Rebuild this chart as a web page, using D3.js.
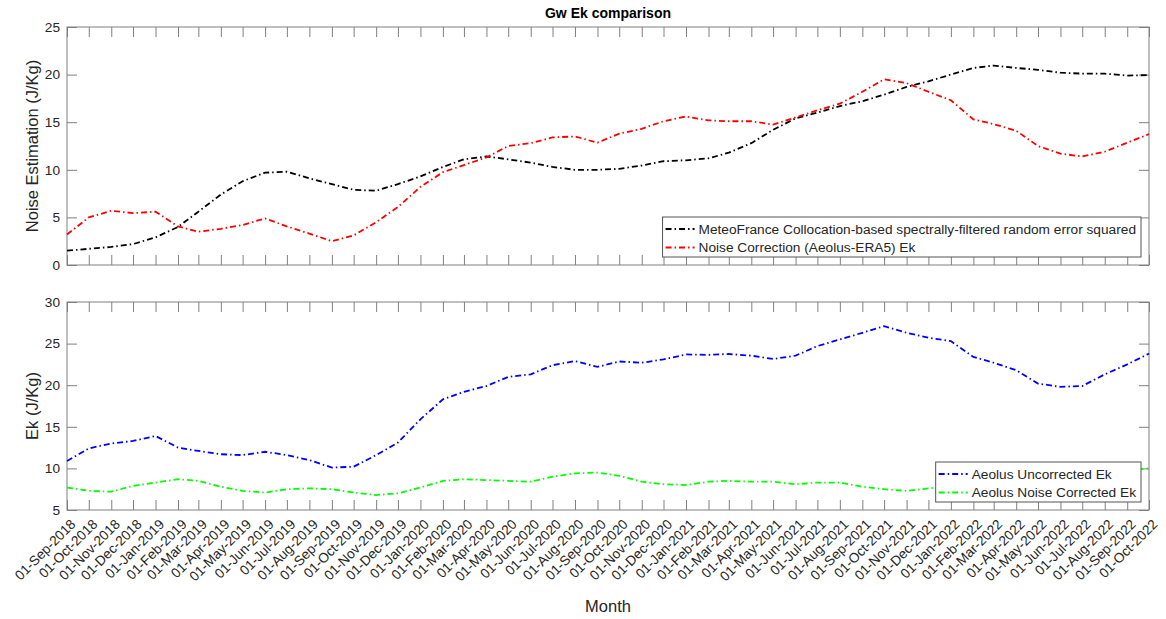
<!DOCTYPE html>
<html>
<head>
<meta charset="utf-8">
<script src="https://cdn.jsdelivr.net/npm/d3@7"></script>
<style>
  body { margin: 0; background: #fff; }
  svg { font-family: "Liberation Sans", Arial, Helvetica, sans-serif; }
</style>
</head>
<body>
<div id="chart"></div>
<script>

// month labels, also used as x values
var months = ['01-Sep-2018','01-Oct-2018','01-Nov-2018','01-Dec-2018','01-Jan-2019','01-Feb-2019','01-Mar-2019','01-Apr-2019',
'01-May-2019','01-Jun-2019','01-Jul-2019','01-Aug-2019','01-Sep-2019','01-Oct-2019','01-Nov-2019','01-Dec-2019',
'01-Jan-2020','01-Feb-2020','01-Mar-2020','01-Apr-2020','01-May-2020','01-Jun-2020','01-Jul-2020','01-Aug-2020',
'01-Sep-2020','01-Oct-2020','01-Nov-2020','01-Dec-2020','01-Jan-2021','01-Feb-2021','01-Mar-2021','01-Apr-2021',
'01-May-2021','01-Jun-2021','01-Jul-2021','01-Aug-2021','01-Sep-2021','01-Oct-2021','01-Nov-2021','01-Dec-2021',
'01-Jan-2022','01-Feb-2022','01-Mar-2022','01-Apr-2022','01-May-2022','01-Jun-2022','01-Jul-2022','01-Aug-2022',
'01-Sep-2022','01-Oct-2022'];

// top panel
var meteoFrance = [1.5,1.7,1.9,2.2,2.9,4.0,5.6,7.4,8.8,9.7,9.8,9.1,8.5,7.9,7.8,8.5,9.3,10.3,11.1,11.4,
11.1,10.75,10.3,10.0,10.0,10.1,10.45,10.9,11.0,11.2,11.8,12.8,14.2,15.4,16.0,16.7,17.2,17.9,18.7,19.3,
20.0,20.7,20.95,20.7,20.5,20.2,20.1,20.1,19.9,19.95];
var noiseCorrection = [3.2,5.0,5.7,5.45,5.6,4.05,3.5,3.8,4.2,4.9,4.05,3.3,2.5,3.1,4.5,6.1,8.2,9.75,10.5,11.3,
12.5,12.8,13.4,13.5,12.85,13.8,14.3,15.1,15.6,15.2,15.1,15.1,14.75,15.5,16.25,16.95,18.2,19.5,19.1,18.2,
17.3,15.3,14.8,14.1,12.5,11.7,11.4,11.9,12.85,13.75];

// bottom panel
var uncorrectedEk = [10.9,12.4,13.0,13.3,13.9,12.5,12.1,11.7,11.6,12.0,11.6,11.0,10.1,10.2,11.6,13.1,15.9,18.3,19.2,19.9,
21.0,21.3,22.4,22.9,22.2,22.85,22.7,23.1,23.7,23.65,23.75,23.55,23.15,23.55,24.7,25.5,26.3,27.1,26.3,25.7,
25.3,23.4,22.7,21.8,20.2,19.8,19.9,21.3,22.5,23.8];
var correctedEk = [7.7,7.3,7.2,7.9,8.3,8.7,8.5,7.8,7.3,7.1,7.5,7.6,7.5,7.1,6.8,7.0,7.7,8.5,8.7,8.6,
8.5,8.4,9.0,9.4,9.5,9.1,8.4,8.1,8.0,8.4,8.5,8.4,8.4,8.1,8.3,8.3,7.8,7.5,7.3,7.6,
7.9,8.3,8.6,8.8,9.0,9.2,9.4,9.6,9.8,10.0];

var topTicks = [0,5,10,15,20,25];
var bottomTicks = [5,10,15,20,25,30];

var parseDate = d3.timeParse("%d-%b-%Y");
var dates = months.map(parseDate);

var svgWidth = 1166, svgHeight = 619;
var left = 67, right = 1149;

var svg = d3.select("#chart")
    .append("svg")
    .attr("width", svgWidth)
    .attr("height", svgHeight);

var xScale = d3.scaleTime()
    .domain(d3.extent(dates))
    .range([left, right]);

var axisColor = "#808080";
var textColor = "#262626";
var dash = "6,3,1.5,3";
var fontSize = "13.7px";

function drawPanel(top, bottom, yDomain, yTicks, series, yLabel, showDates) {
    var y = d3.scaleLinear().domain(yDomain).range([bottom, top]);
    var g = svg.append("g");

    // inward ticks on all four sides (box on)
    g.append("g")
        .attr("transform", `translate(${left},0)`)
        .call(d3.axisLeft(y).tickValues(yTicks).tickSizeInner(-10).tickSizeOuter(0).tickPadding(7));
    g.append("g")
        .attr("transform", `translate(${right},0)`)
        .call(d3.axisRight(y).tickValues(yTicks).tickSizeInner(-10).tickSizeOuter(0).tickFormat(""));
    g.append("g")
        .attr("transform", `translate(0,${top})`)
        .call(d3.axisTop(xScale).tickValues(dates).tickSizeInner(-10).tickSizeOuter(0).tickFormat(""));
    var xb = g.append("g")
        .attr("transform", `translate(0,${bottom})`)
        .call(d3.axisBottom(xScale).tickValues(dates).tickSizeInner(-10).tickSizeOuter(0)
            .tickFormat(showDates ? d3.timeFormat("%d-%b-%Y") : ""));

    if (showDates) {
        xb.selectAll("text")
            .attr("x", 0).attr("y", 0).attr("dy", 0)
            .style("text-anchor", "end")
            .attr("transform", "translate(9,15) rotate(-45)");
    }

    g.selectAll(".domain").remove();
    g.selectAll(".tick line").attr("stroke", axisColor);
    g.selectAll(".tick text").attr("fill", textColor).style("font-size", fontSize);

    g.append("rect")
        .attr("x", left).attr("y", top)
        .attr("width", right - left).attr("height", bottom - top)
        .attr("fill", "none").attr("stroke", axisColor);

    var line = d3.line()
        .x((d, i) => xScale(dates[i]))
        .y(d => y(d));

    series.forEach(s => {
        g.append("path")
            .attr("d", line(s.values))
            .attr("fill", "none")
            .attr("stroke", s.color)
            .attr("stroke-width", 1.8)
            .attr("stroke-dasharray", dash);
    });

    g.append("text")
        .attr("transform", `translate(38,${(top + bottom) / 2}) rotate(-90)`)
        .attr("text-anchor", "middle")
        .attr("fill", textColor)
        .style("font-size", "16.5px")
        .text(yLabel);

    // legend, southeast, sized to its text
    var lg = g.append("g");
    var box = lg.append("rect")
        .attr("fill", "#fff").attr("stroke", "#555");
    var maxW = 0;
    series.forEach((s, i) => {
        var cy = 12 + i * 18.5;
        lg.append("line")
            .attr("x1", 3).attr("x2", 32).attr("y1", cy).attr("y2", cy)
            .attr("stroke", s.color).attr("stroke-width", 1.8)
            .attr("stroke-dasharray", dash);
        var t = lg.append("text")
            .attr("x", 36).attr("y", cy).attr("dy", "0.35em")
            .attr("fill", textColor)
            .style("font-size", fontSize)
            .text(s.name);
        maxW = Math.max(maxW, t.node().getComputedTextLength());
    });
    var lw = 36 + maxW + 5, lh = 40;
    box.attr("width", lw).attr("height", lh);
    lg.attr("transform", `translate(${right - 8 - lw},${bottom - 8 - lh})`);
}

drawPanel(27, 265, [0, 25], topTicks, [
    {name: "MeteoFrance Collocation-based spectrally-filtered random error squared", values: meteoFrance, color: "#000000"},
    {name: "Noise Correction (Aeolus-ERA5) Ek", values: noiseCorrection, color: "#ff0000"}
], "Noise Estimation (J/Kg)", false);

drawPanel(302, 510, [5, 30], bottomTicks, [
    {name: "Aeolus Uncorrected Ek", values: uncorrectedEk, color: "#0000ff"},
    {name: "Aeolus Noise Corrected Ek", values: correctedEk, color: "#00ff00"}
], "Ek (J/Kg)", true);

svg.append("text")
    .attr("x", (left + right) / 2).attr("y", 18)
    .attr("text-anchor", "middle")
    .attr("fill", "#000")
    .style("font-size", "14px").style("font-weight", "bold")
    .text("Gw Ek comparison");

svg.append("text")
    .attr("x", (left + right) / 2).attr("y", 612)
    .attr("text-anchor", "middle")
    .attr("fill", textColor)
    .style("font-size", "16.5px")
    .text("Month");

</script>
</body>
</html>
